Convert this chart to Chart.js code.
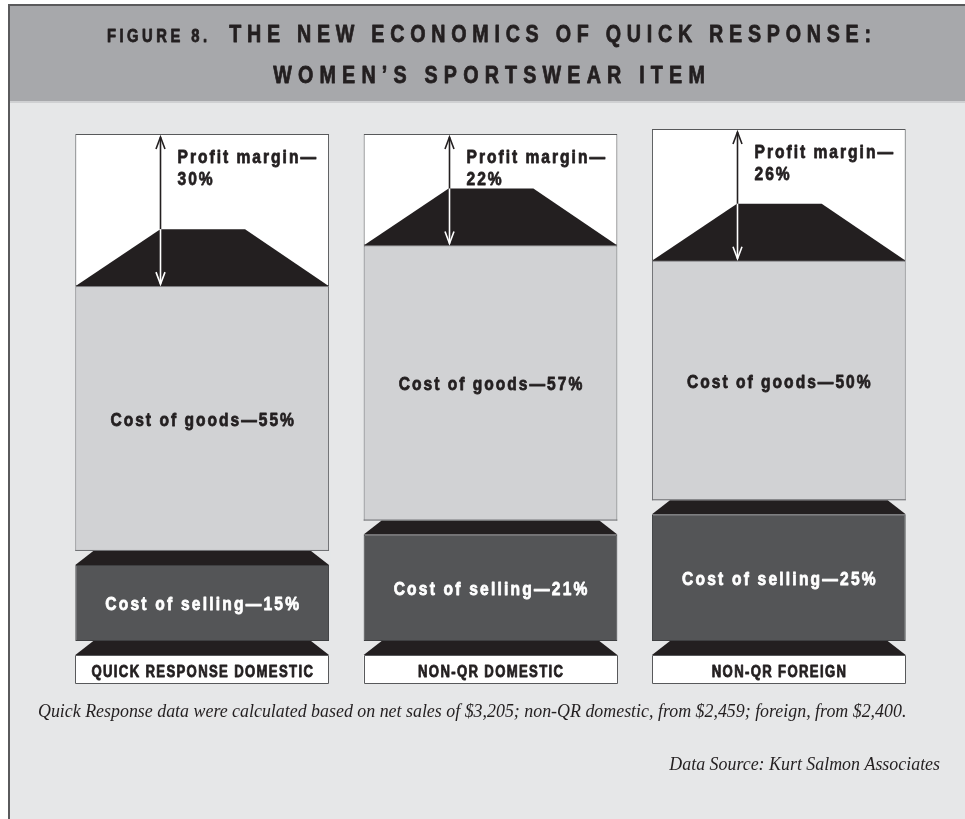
<!DOCTYPE html>
<html>
<head>
<meta charset="utf-8">
<script src="https://cdn.jsdelivr.net/npm/chart.js@4/dist/chart.umd.min.js"></script>
<style>
  html, body { margin: 0; padding: 0; background: #ffffff; }
  #wrap { width: 965px; height: 819px; position: relative; }
  canvas { display: block; }
</style>
</head>
<body>
<div id="wrap"><canvas id="chart" width="965" height="819"></canvas></div>
<script>
// Item economics per sourcing channel, in percent of net sales
const categories    = ['QUICK RESPONSE DOMESTIC', 'NON-QR DOMESTIC', 'NON-QR FOREIGN'];
const costOfSelling = [15, 21, 25];
const costOfGoods   = [55, 57, 50];
const profitMargin  = [30, 22, 26];

const figureTag  = 'FIGURE 8.';
const titleLine1 = 'THE NEW ECONOMICS OF QUICK RESPONSE:';
const titleLine2 = 'WOMEN\u2019S SPORTSWEAR ITEM';
const footnote   = 'Quick Response data were calculated based on net sales of $3,205; non-QR domestic, from $2,459; foreign, from $2,400.';
const sourceNote = 'Data Source: Kurt Salmon Associates';

// palette
const PAGE_BG   = '#e6e7e8';
const BAND_BG   = '#a7a8ab';
const INK       = '#231f20';
const FRAME     = '#5a5a5c';
const GOODS_BG  = '#d1d2d4';
const SELL_BG   = '#545557';
const EDGE      = '#58595b';

// heavy sans, squeezed horizontally for a condensed gothic look
const SANS    = '"Liberation Sans", Arial, sans-serif';
const SQUEEZE = 0.82;
const HEAVY   = 0.8;   // extra outline to thicken the strokes
const SERIF   = '"Liberation Serif", "DejaVu Serif", serif';

// shape constants (pixels)
const ROOF_H = 57;      // black roof sitting on the cost-of-goods block
const BAND_H = 14;      // black chamfered band under each block
const CHAMFER = 18;
const LABEL_H = 29;

function spacedWidth(ctx, s, sp) {
  let w = 0;
  for (const ch of s) w += ctx.measureText(ch).width * SQUEEZE + sp;
  return w - sp;
}
function drawSpaced(ctx, s, x, y, sp, align) {
  const w = spacedWidth(ctx, s, sp);
  let cx = align === 'center' ? x - w / 2 : (align === 'right' ? x - w : x);
  ctx.textAlign = 'left';
  ctx.strokeStyle = ctx.fillStyle;
  ctx.lineWidth = HEAVY;
  ctx.lineJoin = 'round';
  for (const ch of s) {
    ctx.save();
    ctx.translate(cx, y);
    ctx.scale(SQUEEZE, 1);
    ctx.fillText(ch, 0, 0);
    ctx.strokeText(ch, 0, 0);
    ctx.restore();
    cx += ctx.measureText(ch).width * SQUEEZE + sp;
  }
  return w;
}
function chamferBand(ctx, left, right, top, bottom) {
  ctx.beginPath();
  ctx.moveTo(left + CHAMFER, top);
  ctx.lineTo(right - CHAMFER, top);
  ctx.lineTo(right, bottom);
  ctx.lineTo(left, bottom);
  ctx.closePath();
  ctx.fillStyle = INK;
  ctx.fill();
}

const decor = {
  id: 'decor',
  beforeDraw(chart) {
    const ctx = chart.ctx;
    const W = chart.width, H = chart.height;
    ctx.save();
    ctx.fillStyle = '#ffffff';
    ctx.fillRect(0, 0, W, H);
    ctx.fillStyle = PAGE_BG;
    ctx.fillRect(10, 6, W - 10, H - 6);
    ctx.fillStyle = BAND_BG;
    ctx.fillRect(10, 6, W - 10, 95);
    ctx.fillStyle = '#cfd0d2';
    ctx.fillRect(10, 101, W - 10, 2);
    ctx.fillStyle = FRAME;
    ctx.fillRect(8, 4, W - 8, 2);
    ctx.fillRect(8, 4, 2, H - 4);

    // heading
    ctx.fillStyle = INK;
    ctx.textBaseline = 'alphabetic';
    const cx = 489;
    ctx.font = 'bold 18px ' + SANS;
    const wTag = spacedWidth(ctx, figureTag, 3.5);
    ctx.font = 'bold 24px ' + SANS;
    const wT1 = spacedWidth(ctx, titleLine1, 5.75);
    const gap = 22;
    const x0 = cx - (wTag + gap + wT1) / 2;
    ctx.font = 'bold 18px ' + SANS;
    drawSpaced(ctx, figureTag, x0, 42, 3.5, 'left');
    ctx.font = 'bold 24px ' + SANS;
    drawSpaced(ctx, titleLine1, x0 + wTag + gap, 42, 5.75, 'left');
    drawSpaced(ctx, titleLine2, cx, 83, 6.2, 'center');
    ctx.restore();
  },
  afterDatasetsDraw(chart) {
    const ctx = chart.ctx;
    const sell = chart.getDatasetMeta(0).data;
    const goods = chart.getDatasetMeta(1).data;
    const profit = chart.getDatasetMeta(2).data;
    const zeroY = chart.scales.y.getPixelForValue(0);
    ctx.save();
    categories.forEach((cat, i) => {
      const g = goods[i], p = profit[i], s = sell[i];
      const w = g.width, left = g.x - w / 2, right = g.x + w / 2;

      // band between cost of goods and cost of selling
      const gBase = g.base;
      ctx.fillStyle = PAGE_BG;
      ctx.fillRect(left - 1, gBase - BAND_H, w + 2, BAND_H);
      chamferBand(ctx, left, right, gBase - BAND_H, gBase);
      ctx.fillStyle = '#6d6e71';
      ctx.fillRect(left, gBase - BAND_H - 1, w, 1);

      // roof over the cost-of-goods block
      const pb = p.base;
      ctx.beginPath();
      ctx.moveTo(left, pb);
      ctx.lineTo(left + 0.335 * w, pb - ROOF_H);
      ctx.lineTo(left + 0.669 * w, pb - ROOF_H);
      ctx.lineTo(right, pb);
      ctx.closePath();
      ctx.fillStyle = INK;
      ctx.fill();

      // double arrow spanning the profit margin
      const ax = Math.round(left + 0.335 * w) + 0.5;
      const tipTop = p.y + 3, tipBot = pb - 2;
      ctx.lineWidth = 1.6;
      ctx.lineCap = 'butt';
      ctx.lineJoin = 'miter';
      ctx.strokeStyle = INK;
      ctx.beginPath();
      ctx.moveTo(ax, tipTop); ctx.lineTo(ax, pb - ROOF_H);
      ctx.stroke();
      ctx.beginPath();
      ctx.moveTo(ax - 4.5, tipTop + 12); ctx.lineTo(ax, tipTop); ctx.lineTo(ax + 4.5, tipTop + 12);
      ctx.stroke();
      ctx.strokeStyle = '#ffffff';
      ctx.beginPath();
      ctx.moveTo(ax, pb - ROOF_H); ctx.lineTo(ax, tipBot);
      ctx.stroke();
      ctx.beginPath();
      ctx.moveTo(ax - 4.5, tipBot - 12); ctx.lineTo(ax, tipBot); ctx.lineTo(ax + 4.5, tipBot - 12);
      ctx.stroke();

      // block captions
      ctx.font = 'bold 19px ' + SANS;
      ctx.textBaseline = 'alphabetic';
      ctx.fillStyle = INK;
      drawSpaced(ctx, 'Profit margin\u2014', ax + 17, p.y + 29, 2, 'left');
      drawSpaced(ctx, profitMargin[i] + '%', ax + 17, p.y + 51, 2, 'left');
      const goodsMid = (g.y + gBase - BAND_H) / 2;
      drawSpaced(ctx, 'Cost of goods\u2014' + costOfGoods[i] + '%', g.x, goodsMid + 7, 2, 'center');
      ctx.fillStyle = '#ffffff';
      const sellMid = (s.y + s.base) / 2;
      drawSpaced(ctx, 'Cost of selling\u2014' + costOfSelling[i] + '%', s.x, sellMid + 7, 2.2, 'center');

      // base band and category label box
      chamferBand(ctx, left, right, zeroY, zeroY + BAND_H);
      const ly = zeroY + BAND_H;
      ctx.fillStyle = '#ffffff';
      ctx.fillRect(left, ly, w, LABEL_H);
      ctx.strokeStyle = EDGE;
      ctx.lineWidth = 1;
      ctx.strokeRect(Math.round(left) + 0.5, ly + 0.5, Math.round(w) - 1, LABEL_H - 1);
      ctx.fillStyle = INK;
      ctx.font = 'bold 16px ' + SANS;
      drawSpaced(ctx, cat, g.x, ly + 22, 1.35, 'center');
    });
    ctx.restore();
  },
  afterDraw(chart) {
    const ctx = chart.ctx;
    ctx.save();
    ctx.fillStyle = INK;
    ctx.textBaseline = 'alphabetic';
    ctx.font = 'italic 17.9px ' + SERIF;
    ctx.textAlign = 'left';
    ctx.fillText(footnote, 38, 717);
    ctx.textAlign = 'right';
    ctx.fillText(sourceNote, 940, 770);
    ctx.restore();
  }
};

new Chart(document.getElementById('chart'), {
  type: 'bar',
  data: {
    labels: categories,
    datasets: [
      { label: 'Cost of selling', data: costOfSelling, backgroundColor: SELL_BG, borderColor: '#3f4042', borderWidth: 1, borderSkipped: false },
      { label: 'Cost of goods',   data: costOfGoods,   backgroundColor: GOODS_BG, borderColor: '#6d6e71', borderWidth: 1, borderSkipped: false },
      { label: 'Profit margin',   data: profitMargin,  backgroundColor: '#ffffff', borderColor: EDGE, borderWidth: 1, borderSkipped: false }
    ]
  },
  options: {
    responsive: false,
    animation: false,
    devicePixelRatio: 1,
    events: [],
    layout: { padding: { top: 129, bottom: 178, left: 58, right: 42 } },
    datasets: { bar: { barPercentage: 0.88, categoryPercentage: 1 } },
    scales: {
      x: { display: false, stacked: true },
      y: { display: false, stacked: true, min: 0, max: 101 }
    },
    plugins: {
      legend: { display: false },
      tooltip: { enabled: false },
      title: { display: false }
    }
  },
  plugins: [decor]
});
</script>
</body>
</html>
